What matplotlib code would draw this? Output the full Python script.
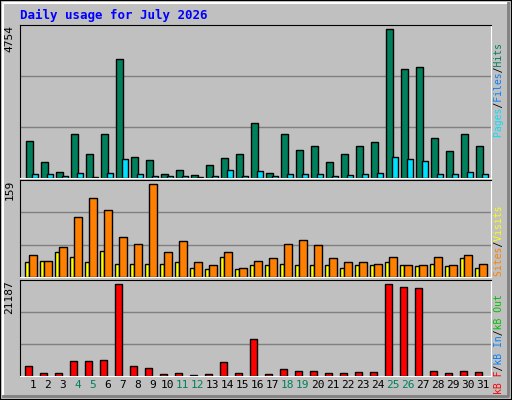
import matplotlib
matplotlib.use("Agg")
import matplotlib.pyplot as plt
from matplotlib.patches import Rectangle
import numpy as np

days = list(range(1, 32))
weekend = [4, 5, 11, 12, 18, 19, 25, 26]
hits = [1183, 495, 204, 1398, 753, 1398, 3786, 656, 559, 140, 269, 108, 430, 624, 753, 1754,
        172, 1398, 882, 1011, 495, 753, 1011, 1140, 4754, 3464, 3529, 1270, 850, 1398, 1011]
pages = [140, 140, 75, 160, 30, 160, 592, 140, 75, 75, 75, 30, 75, 269, 75, 237,
         75, 140, 140, 140, 75, 110, 140, 172, 656, 592, 527, 140, 140, 204, 140]
sites = [38, 28, 52, 102, 135, 114, 69, 56, 159, 42, 61, 25, 20, 42, 16, 28,
         32, 57, 64, 54, 33, 25, 26, 23, 35, 20, 21, 35, 21, 38, 23]
visits = [26, 28, 42, 35, 26, 44, 23, 23, 23, 23, 26, 16, 14, 35, 14, 20,
          20, 23, 20, 20, 20, 16, 21, 20, 25, 20, 18, 23, 18, 32, 16]
kbytes = [2397, 773, 773, 3557, 3557, 3788, 21187, 2397, 1933, 541, 773, 309, 541, 3325, 773, 8429,
          541, 1701, 1237, 1237, 773, 773, 1005, 1005, 21187, 20491, 20259, 1237, 773, 1237, 1005]

BG = "#c0c0c0"
W, H = 512, 400
fig = plt.figure(figsize=(5.12, 4.0), dpi=100, facecolor=BG)
mono = "DejaVu Sans Mono"

fig.add_artist(Rectangle((0, 0), 1, 1, transform=fig.transFigure, fill=False, ec="black", lw=1.5))
fig.add_artist(plt.Line2D([3/W, 3/W, 1-4/W], [4/H, 1-3/H, 1-3/H], transform=fig.transFigure, color="white", lw=1.5))
fig.add_artist(plt.Line2D([3/W, 1-4/W, 1-4/W], [4/H, 4/H, 1-3/H], transform=fig.transFigure, color="#808080", lw=2))

fig.text(20/W, 1-15/H, "Daily usage for July 2026", color="#0000ff", fontsize=9, fontweight="bold",
         family=mono, va="center")

def panel(top, bottom):
    ax = fig.add_axes([20/W, 1-bottom/H, (491-20)/W, (bottom-top)/H])
    ax.set_facecolor(BG)
    ax.set_xlim(0.15, 31.55)
    for s in ["left", "top"]:
        ax.spines[s].set_color("black")
    for s in ["right", "bottom"]:
        ax.spines[s].set_color("white")
    ax.set_xticks([]); ax.set_yticks([])
    return ax

def grid(ax, ymax):
    for f in (1/3, 2/3):
        ax.axhline(ymax*f, color="#808080", lw=1, zorder=0)

bk = dict(edgecolor="black", linewidth=1, zorder=2)
d = np.array(days)

ax1 = panel(25, 178)
top1 = max(hits) * 152/148
ax1.set_ylim(0, top1); grid(ax1, top1)
ax1.bar(d - 0.2, hits, width=0.47, color="#00805c", **bk)
ax1.bar(d + 0.13, pages, width=0.4, color="#00e0ff", **bk)

ax2 = panel(180, 277)
top2 = max(sites) * 97/93
ax2.set_ylim(0, top2); grid(ax2, top2)
ax2.bar(d - 0.4, visits, width=0.27, color="#ffff00", **bk)
ax2.bar(d, sites, width=0.5, color="#ff8000", **bk)

ax3 = panel(280, 376)
top3 = max(kbytes) * 96/92
ax3.set_ylim(0, top3); grid(ax3, top3)
ax3.bar(d - 0.27, kbytes, width=0.5, color="#ff0000", **bk)

for i in days:
    ax3.text(i, -0.04, str(i), transform=ax3.get_xaxis_transform(), ha="center", va="top",
             fontsize=8, family=mono, color="#00805c" if i in weekend else "black")

for ax, lab in [(ax1, "4754"), (ax2, "159"), (ax3, "21187")]:
    ax.text(-0.012, 1, lab, transform=ax.transAxes, rotation=90, ha="right", va="top",
            fontsize=8, family=mono)

def legend(parts, ybottom_px):
    full = "".join(t for t, _ in parts)
    pos = 0
    for txt, col in parts:
        s = " " * pos + txt + " " * (len(full) - pos - len(txt))
        fig.text(494/W, 1 - ybottom_px/H, s, rotation=90, ha="left", va="bottom",
                 fontsize=7, family=mono, color=col)
        pos += len(txt)

legend([("Pages", "#00e0ff"), ("/", "black"), ("Files", "#0080ff"), ("/", "black"), ("Hits", "#00805c")], 137)
legend([("Sites", "#ff8000"), ("/", "black"), ("Visits", "#ffff00")], 276)
legend([("kB F", "#ff0000"), ("/", "black"), ("kB In", "#0080ff"), ("/", "black"), ("kB Out", "#00c000")], 394)

fig.savefig("out.png", dpi=100, facecolor=BG)
